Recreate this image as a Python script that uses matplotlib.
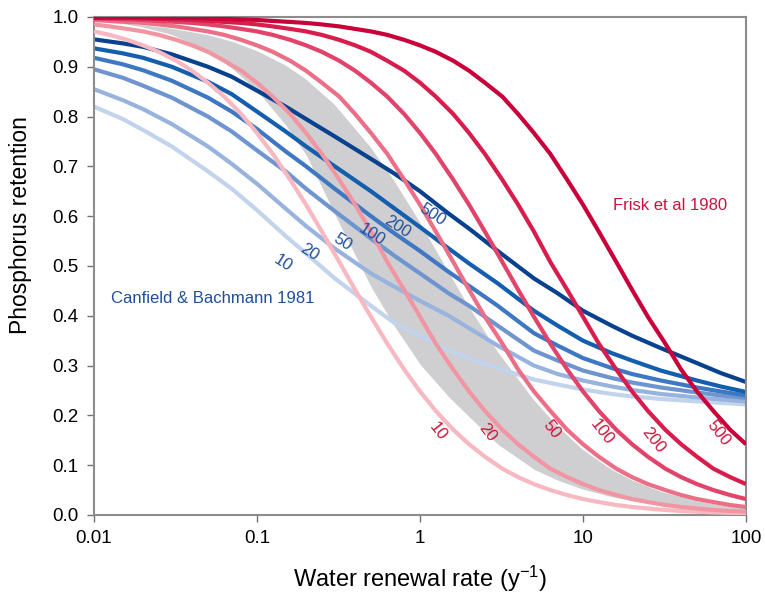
import matplotlib
matplotlib.use('Agg')
from matplotlib import pyplot as plt

plt.rcParams['font.family'] = ['Liberation Sans', 'DejaVu Sans']
plt.rcParams['mathtext.fontset'] = 'custom'
plt.rcParams['mathtext.rm'] = 'Liberation Sans'
plt.rcParams['mathtext.default'] = 'rm'

# Water renewal rate (1/y): a finer grid for the Frisk curves, a coarser one for the rest
renewal_fine = [0.01, 0.0125, 0.016, 0.02, 0.025, 0.032, 0.04, 0.05, 0.063, 0.08,
                0.1, 0.125, 0.16, 0.2, 0.25, 0.32, 0.4, 0.5, 0.63, 0.8,
                1, 1.25, 1.6, 2, 2.5, 3.2, 4, 5, 6.3, 8,
                10, 12.5, 16, 20, 25, 32, 40, 50, 63, 80, 100]
renewal = [0.01, 0.015, 0.02, 0.03, 0.05, 0.07, 0.1, 0.15, 0.2, 0.3, 0.5, 0.7,
           1, 1.5, 2, 3, 5, 7, 10, 15, 20, 30, 50, 70, 100]

# Frisk et al 1980
frisk_labels = ['10', '20', '50', '100', '200', '500']
frisk_10 = [0.971, 0.964, 0.954, 0.943, 0.930, 0.912, 0.892, 0.868, 0.840, 0.805,
            0.767, 0.725, 0.673, 0.623, 0.569, 0.508, 0.452, 0.398, 0.344, 0.292,
            0.248, 0.209, 0.171, 0.142, 0.117, 0.093, 0.076, 0.062, 0.050, 0.040,
            0.032, 0.026, 0.020, 0.016, 0.013, 0.010, 0.008, 0.0066, 0.0052, 0.0041, 0.0033]
frisk_20 = [0.985, 0.981, 0.976, 0.971, 0.964, 0.954, 0.943, 0.930, 0.912, 0.892,
            0.868, 0.840, 0.805, 0.767, 0.725, 0.673, 0.623, 0.569, 0.508, 0.452,
            0.398, 0.344, 0.292, 0.248, 0.209, 0.171, 0.142, 0.117, 0.093, 0.076,
            0.062, 0.050, 0.040, 0.032, 0.026, 0.020, 0.016, 0.013, 0.010, 0.008, 0.0066]
frisk_50 = [0.994, 0.992, 0.990, 0.988, 0.985, 0.981, 0.976, 0.971, 0.964, 0.954,
            0.943, 0.930, 0.912, 0.892, 0.868, 0.840, 0.805, 0.767, 0.725, 0.673,
            0.623, 0.569, 0.508, 0.452, 0.398, 0.344, 0.292, 0.248, 0.209, 0.171,
            0.142, 0.117, 0.093, 0.076, 0.062, 0.050, 0.040, 0.032, 0.026, 0.020, 0.016]
frisk_100 = [0.997, 0.996, 0.995, 0.994, 0.992, 0.990, 0.988, 0.985, 0.981, 0.976,
             0.971, 0.964, 0.954, 0.943, 0.930, 0.912, 0.892, 0.868, 0.840, 0.805,
             0.767, 0.725, 0.673, 0.623, 0.569, 0.508, 0.452, 0.398, 0.344, 0.292,
             0.248, 0.209, 0.171, 0.142, 0.117, 0.093, 0.076, 0.062, 0.050, 0.040, 0.032]
frisk_200 = [0.998, 0.998, 0.998, 0.997, 0.996, 0.995, 0.994, 0.992, 0.990, 0.988,
             0.985, 0.981, 0.976, 0.971, 0.964, 0.954, 0.943, 0.930, 0.912, 0.892,
             0.868, 0.840, 0.805, 0.767, 0.725, 0.673, 0.623, 0.569, 0.508, 0.452,
             0.398, 0.344, 0.292, 0.248, 0.209, 0.171, 0.142, 0.117, 0.093, 0.076, 0.062]
frisk_500 = [0.999, 0.999, 0.999, 0.999, 0.998, 0.998, 0.998, 0.997, 0.996, 0.995,
             0.994, 0.992, 0.990, 0.988, 0.985, 0.981, 0.976, 0.971, 0.964, 0.954,
             0.943, 0.930, 0.912, 0.892, 0.868, 0.840, 0.805, 0.767, 0.725, 0.673,
             0.623, 0.569, 0.508, 0.452, 0.398, 0.344, 0.292, 0.248, 0.209, 0.171, 0.142]

# Canfield & Bachmann 1981
canfield_labels = ['10', '20', '50', '100', '200', '500']
canfield_10 = [0.820, 0.795, 0.773, 0.740, 0.690, 0.655, 0.612, 0.560, 0.525, 0.475, 0.420, 0.385,
               0.360, 0.330, 0.315, 0.295, 0.272, 0.262, 0.252, 0.243, 0.238, 0.233, 0.228, 0.225, 0.222]
canfield_20 = [0.855, 0.833, 0.815, 0.785, 0.740, 0.705, 0.665, 0.615, 0.580, 0.535, 0.485, 0.458,
               0.430, 0.400, 0.375, 0.340, 0.300, 0.283, 0.270, 0.258, 0.251, 0.243, 0.236, 0.232, 0.228]
canfield_50 = [0.895, 0.878, 0.862, 0.838, 0.800, 0.770, 0.732, 0.690, 0.655, 0.610, 0.555, 0.520,
               0.485, 0.445, 0.420, 0.380, 0.330, 0.310, 0.290, 0.275, 0.266, 0.256, 0.246, 0.240, 0.235]
canfield_100 = [0.918, 0.905, 0.893, 0.872, 0.838, 0.810, 0.775, 0.730, 0.700, 0.655, 0.600, 0.565,
                0.530, 0.488, 0.460, 0.420, 0.365, 0.340, 0.315, 0.295, 0.283, 0.270, 0.256, 0.248, 0.240]
canfield_200 = [0.937, 0.927, 0.918, 0.900, 0.870, 0.845, 0.810, 0.770, 0.740, 0.700, 0.650, 0.615,
                0.578, 0.535, 0.505, 0.465, 0.410, 0.380, 0.350, 0.325, 0.310, 0.290, 0.270, 0.258, 0.247]
canfield_500 = [0.955, 0.947, 0.940, 0.925, 0.900, 0.880, 0.852, 0.820, 0.795, 0.760, 0.715, 0.685,
                0.650, 0.605, 0.575, 0.530, 0.475, 0.445, 0.410, 0.380, 0.360, 0.335, 0.305, 0.285, 0.267]

# shaded range
band_low = [0.990, 0.985, 0.978, 0.963, 0.930, 0.895, 0.850, 0.780, 0.720, 0.600, 0.455, 0.375,
            0.300, 0.235, 0.195, 0.140, 0.090, 0.068, 0.050, 0.035, 0.027, 0.019, 0.012, 0.009, 0.007]
band_high = [0.994, 0.990, 0.986, 0.979, 0.966, 0.953, 0.934, 0.905, 0.877, 0.826, 0.740, 0.672,
             0.590, 0.490, 0.420, 0.330, 0.233, 0.180, 0.133, 0.093, 0.072, 0.049, 0.030, 0.022, 0.015]

frisk = [frisk_10, frisk_20, frisk_50, frisk_100, frisk_200, frisk_500]
canfield = [canfield_10, canfield_20, canfield_50, canfield_100, canfield_200, canfield_500]

red_cols = ['#F7B8C2', '#F295A3', '#EA6F87', '#E2436A', '#D81D4D', '#C9003A']
blue_cols = ['#C2D3EC', '#98B3DD', '#6E95D0', '#3F78C2', '#145EAE', '#08418E']

fig = plt.figure(figsize=(7.65, 6.06), dpi=100)
ax = fig.add_axes([0.1229, 0.1502, 0.8523, 0.8218])

ax.fill_between(renewal, band_low, band_high, facecolor='#CFCFD1', edgecolor='white', lw=1.2, zorder=1)

for vals, c in zip(canfield, blue_cols):
    ax.plot(renewal, vals, color=c, lw=3, solid_capstyle='butt', zorder=2)
for vals, c in zip(frisk, red_cols):
    ax.plot(renewal_fine, vals, color=c, lw=3, solid_capstyle='butt', zorder=3)

ax.set_xscale('log')
ax.set_xlim(0.01, 100)
ax.set_ylim(0, 1)
ax.set_xticks([0.01, 0.1, 1, 10, 100])
ax.set_xticklabels(['0.01', '0.1', '1', '10', '100'])
ax.minorticks_off()
ax.set_yticks([i / 10 for i in range(11)])
ax.set_yticklabels(['%.1f' % (i / 10) for i in range(11)])
ax.tick_params(labelsize=13.5, length=5, width=1, color='#707070', pad=6)

for s in ax.spines.values():
    s.set_color('#8C8C8C')
    s.set_linewidth(1.5)

ax.set_ylabel('Phosphorus retention', fontsize=16.5)
ax.yaxis.set_label_coords(-0.095, 0.582)
ax.set_xlabel('Water renewal rate (y$^{-1}$)', fontsize=17, labelpad=12)

red_txt = '#D0103A'
blue_txt = '#1F4E9A'

# curve labels
red_pos = [(1.29, 0.167), (2.58, 0.165), (6.46, 0.171), (13.1, 0.167), (26.9, 0.151), (67.3, 0.165)]
for lab, (x, y) in zip(frisk_labels, red_pos):
    ax.text(x, y, lab, color=red_txt, fontsize=12, rotation=-52, ha='center', va='center', zorder=5)

blue_pos = [(0.1445, 0.506), (0.211, 0.528), (0.337, 0.548), (0.508, 0.562), (0.723, 0.578), (1.185, 0.602)]
for lab, (x, y) in zip(canfield_labels, blue_pos):
    ax.text(x, y, lab, color=blue_txt, fontsize=12, rotation=-33, ha='center', va='center', zorder=5)

ax.text(34.2, 0.622, 'Frisk et al 1980', color=red_txt, fontsize=12, ha='center', va='center')
ax.text(0.0537, 0.434, 'Canfield & Bachmann 1981', color=blue_txt, fontsize=12, ha='center', va='center')

fig.savefig('out.png', dpi=100)
